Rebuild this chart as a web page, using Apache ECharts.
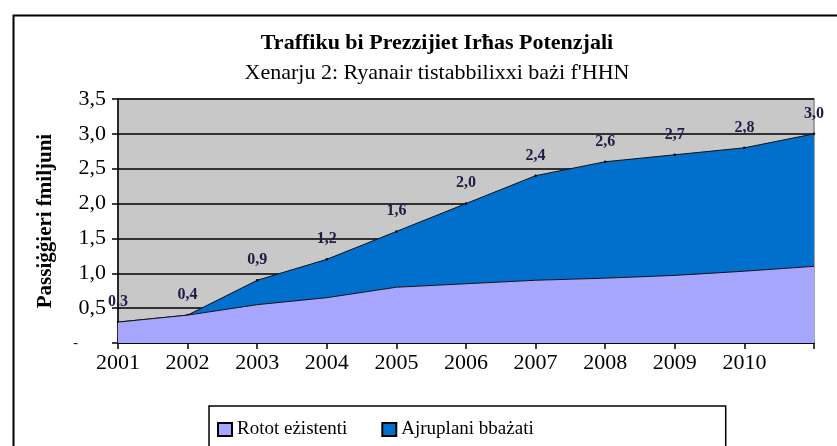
<!DOCTYPE html>
<html>
<head>
<meta charset="utf-8">
<script src="https://cdn.jsdelivr.net/npm/echarts@6/dist/echarts.min.js"></script>
<style>
  html, body { margin: 0; padding: 0; background: #fff; }
  #trafficChart { width: 837px; height: 446px; }
</style>
</head>
<body>
<div id="trafficChart"></div>
<script>
// snin (l-aħħar wieħed bla tikketta)
var years = ['2001','2002','2003','2004','2005','2006','2007','2008','2009','2010',''];
// rotot eżistenti (miljuni)
var rototEzistenti = [0.3, 0.4, 0.55, 0.65, 0.8, 0.85, 0.9, 0.93, 0.97, 1.03, 1.1];
// ajruplani bbażati (miljuni, fuq ir-rotot)
var ajruplaniBbazati = [0, 0, 0.35, 0.55, 0.8, 1.15, 1.5, 1.67, 1.73, 1.77, 1.9];

var serif = '"Liberation Serif", "DejaVu Serif", serif';

function comma(v) {
    return v.toFixed(1).replace('.', ',');
}

var myChart = echarts.init(document.getElementById('trafficChart'));
var option = {
    backgroundColor: '#fff',
    animation: false,
    title: {
        text: 'Traffiku bi Prezzijiet Irħas Potenzjali',
        subtext: "Xenarju 2: Ryanair tistabbilixxi bażi f'HHN",
        left: 432,
        textAlign: 'center',
        top: 27,
        itemGap: 8,
        textStyle: { fontFamily: serif, fontSize: 22, fontWeight: 'bold', color: '#000' },
        subtextStyle: { fontFamily: serif, fontSize: 22, color: '#000' }
    },
    legend: {
        data: ['Rotot eżistenti', 'Ajruplani bbażati'],
        left: 209,
        top: 406,
        orient: 'horizontal',
        padding: [14, 192, 30, 8],
        itemGap: 34,
        itemWidth: 14,
        itemHeight: 13,
        borderColor: '#000',
        borderWidth: 1.5,
        icon: 'rect',
        textStyle: { fontFamily: serif, fontSize: 19, color: '#000' }
    },
    grid: {
        left: 118,
        right: 23,
        top: 99,
        bottom: 103,
        show: true,
        backgroundColor: '#c8c8c8',
        borderColor: '#8c8c8c',
        borderWidth: 1.5
    },
    xAxis: {
        type: 'category',
        data: years,
        boundaryGap: false,
        axisLine: { lineStyle: { color: '#000', width: 1.5 } },
        axisTick: { show: true, length: 6, inside: false, lineStyle: { color: '#000', width: 1.5 } },
        axisLabel: { interval: 0, margin: 9, fontFamily: serif, fontSize: 22, color: '#000' },
        splitLine: { show: false }
    },
    yAxis: {
        type: 'value',
        min: 0,
        max: 3.5,
        interval: 0.5,
        name: 'Passiġġieri fmiljuni',
        nameLocation: 'middle',
        nameGap: 62,
        nameRotate: 90,
        nameTextStyle: { fontFamily: serif, fontSize: 21, fontWeight: 'bold', color: '#000' },
        axisLine: { show: true, lineStyle: { color: '#000', width: 1.5 } },
        axisTick: { show: true, length: 6, lineStyle: { color: '#000', width: 1.5 } },
        axisLabel: {
            margin: 12,
            fontFamily: serif,
            fontSize: 22,
            color: '#000',
            formatter: function (v) {
                if (v === 0) return '{z|-}';
                return comma(v);
            },
            rich: { z: { fontFamily: serif, fontSize: 14, color: '#000', padding: [0, 28, 0, 0] } }
        },
        splitLine: {
            show: true,
            lineStyle: { color: '#000', width: 1.5 }
        }
    },
    series: [
        {
            name: 'Rotot eżistenti',
            type: 'line',
            stack: 'total',
            data: rototEzistenti,
            symbol: 'none',
            lineStyle: { color: '#111', width: 1 },
            areaStyle: { color: '#a6a6ff', opacity: 1 },
            itemStyle: { color: '#a6a6ff', borderColor: '#000', borderWidth: 1.5 },
            z: 3
        },
        {
            name: 'Ajruplani bbażati',
            type: 'line',
            stack: 'total',
            data: ajruplaniBbazati,
            symbol: 'circle',
            symbolSize: 1,
            showSymbol: true,
            lineStyle: { color: '#111', width: 1 },
            areaStyle: { color: '#0070cc', opacity: 1 },
            itemStyle: { color: '#0070cc', borderColor: '#000', borderWidth: 1.5 },
            label: {
                show: true,
                position: 'top',
                distance: 11,
                fontFamily: serif,
                fontSize: 16,
                fontWeight: 'bold',
                color: '#1c1c44',
                formatter: function (p) {
                    var i = p.dataIndex;
                    return comma(rototEzistenti[i] + ajruplaniBbazati[i]);
                }
            },
            z: 2
        }
    ],
    graphic: [
        {
            type: 'rect',
            left: 11,
            top: 13,
            shape: { width: 900, height: 600 },
            style: { fill: 'none', stroke: '#000', lineWidth: 2 },
            silent: true,
            z: 100
        }
    ]
};

myChart.setOption(option);
</script>
</body>
</html>
